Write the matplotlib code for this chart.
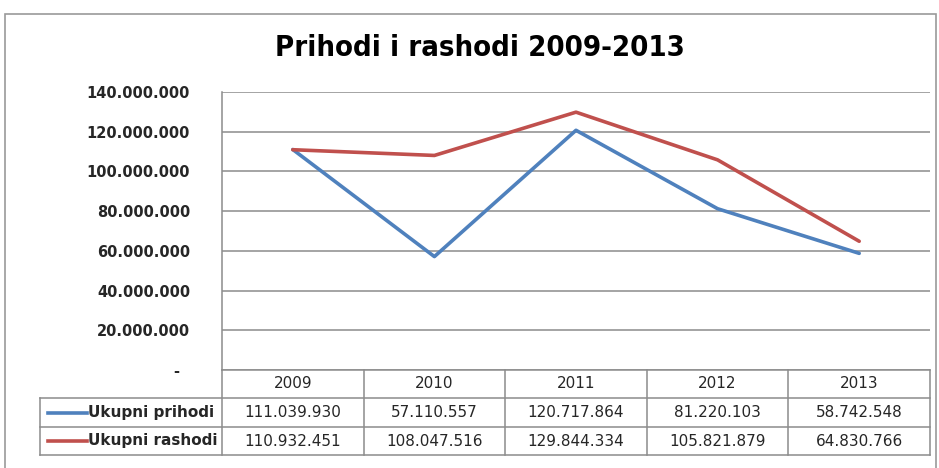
import matplotlib
matplotlib.use('Agg')
import matplotlib.pyplot as plt
from matplotlib.patches import Rectangle
from matplotlib.lines import Line2D

#- Data:

years = ['2009', '2010', '2011', '2012', '2013']
prihodi = [111039930, 57110557, 120717864, 81220103, 58742548]
rashodi = [110932451, 108047516, 129844334, 105821879, 64830766]
series_names = ['Ukupni prihodi', 'Ukupni rashodi']
yticks = [0, 20000000, 40000000, 60000000, 80000000, 100000000, 120000000, 140000000]


def fmt(v):
    if v == 0:
        return '-  '
    return '{:,}'.format(v).replace(',', '.')


W, H = 939, 468
fig = plt.figure(figsize=(W / 100, H / 100), dpi=100)

# pixel -> figure fraction helpers
fx = lambda x: x / W
fy = lambda y: 1 - y / H

# outer chart border
fig.patches.append(Rectangle((fx(5), fy(470)), fx(936) - fx(5), fy(14) - fy(470),
                             transform=fig.transFigure, fill=False,
                             edgecolor='#9a9a9a', linewidth=1.2))

#- Plot area:

left, right, top, bottom = 222, 930, 92, 370
ax = fig.add_axes([fx(left), fy(bottom), fx(right) - fx(left), fy(top) - fy(bottom)])
x = list(range(len(years)))
colors = ['#4F81BD', '#C0504D']
ax.plot(x, prihodi, color=colors[0], linewidth=2.6, solid_capstyle='round')
ax.plot(x, rashodi, color=colors[1], linewidth=2.6, solid_capstyle='round')
ax.set_xlim(-0.5, len(years) - 0.5)
ax.set_ylim(0, 140000000)
ax.set_yticks(yticks)
ax.set_yticklabels([fmt(v) for v in yticks], fontsize=10.5, fontweight='bold',
                   family='DejaVu Sans', color='#262626')
ax.tick_params(axis='y', length=0, pad=23)
ax.set_xticks([])
ax.yaxis.grid(True, color='#8c8c8c', linewidth=1.1)
ax.set_axisbelow(True)
for s in ['top', 'right', 'bottom']:
    ax.spines[s].set_visible(False)
ax.spines['left'].set_color('#8c8c8c')
ax.spines['left'].set_linewidth(1.1)

#- Title:

fig.text(fx(480), fy(48), 'Prihodi i rashodi 2009-2013', ha='center', va='center',
         fontsize=21, fontweight='bold', family='DejaVu Sans', fontstretch='condensed')

#- Data table:

row_y = [370, 398, 427, 455]
grid_c = '#8c8c8c'
col_w = (right - left) / len(years)
lab_left = 40


def hline(y, x0, x1):
    fig.lines.append(Line2D([fx(x0), fx(x1)], [fy(y), fy(y)], transform=fig.transFigure,
                            color=grid_c, linewidth=1.1))


def vline(xp, y0, y1):
    fig.lines.append(Line2D([fx(xp), fx(xp)], [fy(y0), fy(y1)], transform=fig.transFigure,
                            color=grid_c, linewidth=1.1))


hline(row_y[0], left, right)
for y in row_y[1:]:
    hline(y, lab_left, right)
for i in range(len(years) + 1):
    vline(left + i * col_w, row_y[0], row_y[3])
vline(lab_left, row_y[1], row_y[3])

for i, yr in enumerate(years):
    cx = left + (i + 0.5) * col_w
    fig.text(fx(cx), fy((row_y[0] + row_y[1]) / 2), yr, ha='center', va='center',
             fontsize=11, family='DejaVu Sans', color='#262626')
    for r, vals in enumerate([prihodi, rashodi]):
        fig.text(fx(cx), fy((row_y[r + 1] + row_y[r + 2]) / 2), fmt(vals[i]),
                 ha='center', va='center', fontsize=11, family='DejaVu Sans',
                 color='#262626')

for r, name in enumerate(series_names):
    yc = (row_y[r + 1] + row_y[r + 2]) / 2
    fig.lines.append(Line2D([fx(48), fx(87)], [fy(yc), fy(yc)], transform=fig.transFigure,
                            color=colors[r], linewidth=2.6))
    fig.text(fx(88), fy(yc), name, ha='left', va='center', fontsize=11,
             fontweight='bold', family='DejaVu Sans', color='#262626')

plt.savefig('out.png', dpi=100)
